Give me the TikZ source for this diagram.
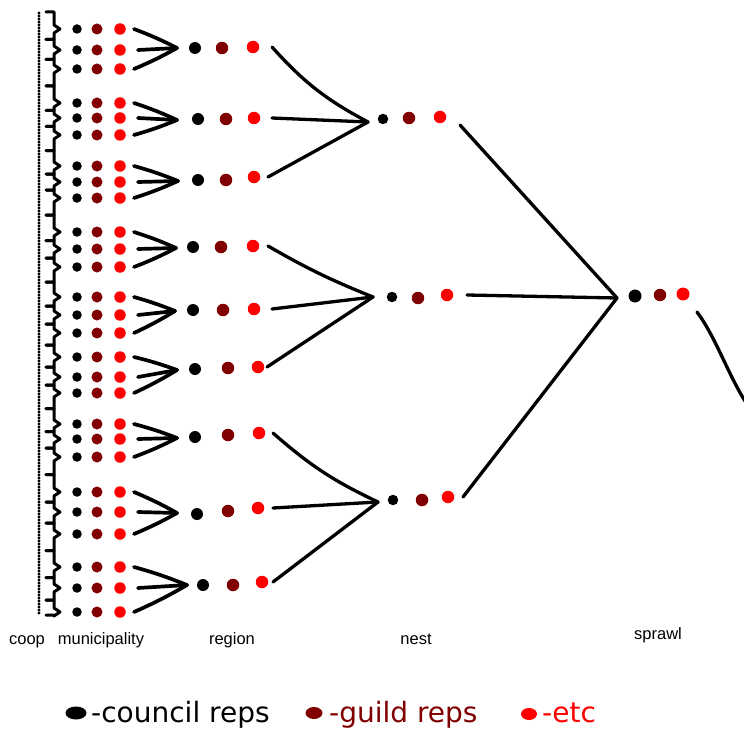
\documentclass[tikz,border=0pt]{standalone}
\usepackage{fontspec}
\setmainfont{Liberation Sans}
\newfontfamily\legfont{DejaVu Sans}
\usetikzlibrary{shapes.geometric}
\definecolor{dkred}{RGB}{128,0,0}
\definecolor{brred}{RGB}{255,0,0}
\begin{document}
\begin{tikzpicture}[x=1pt,y=-1pt,
  dotbase/.style={circle,inner sep=0pt,draw=none},
  kd/.style={dotbase,fill=black,minimum size=#1},
  dd/.style={dotbase,fill=dkred,minimum size=#1},
  rd/.style={dotbase,fill=brred,minimum size=#1},
  wire/.style={line width=3.3pt,line cap=round,line join=round},
  arr/.style={line width=3.7pt,line cap=round,line join=round},
  brc/.style={line width=3pt,line cap=round,line join=round},
  lbl/.style={font=\fontsize{16.5}{18}\selectfont,anchor=base,inner sep=0pt},
  leg/.style={font=\legfont\fontsize{28}{30}\selectfont,anchor=base west,inner sep=0pt},
  blob/.style={ellipse,inner sep=0pt,draw=none}]
\useasboundingbox (0,0) rectangle (744,733);

% coop members
\foreach \i in {0,...,200} \fill (39,13+3*\i) circle (1.6pt);

% braces grouping coop members into municipalities
\foreach \y/\a/\b in {29/12/39.5, 50/39.5/59.5, 69/59.5/86,
  103/86/110.5, 118/110.5/126.5, 135/126.5/150.5,
  166/150.5/174, 182/174/190, 198/190/215,
  232/215/240.5, 249/240.5/258, 267/258/282,
  297/282/306, 315/306/324, 333/324/345,
  357/345/367, 377/367/385, 393/385/408.5,
  424/408.5/431.5, 439/431.5/448, 457/448/474.5,
  492/474.5/502, 512/502/523, 534/523/550.5,
  567/550.5/577.5, 588/577.5/600, 612/600/615}
  \draw[brc] (46,\a) -- (54,\a) -- (54,\y-4) -- (60,\y) -- (54,\y+4) -- (54,\b) -- (46,\b);

% municipalities
\foreach \y [count=\i] in {29,50,69,103,118,135,166,182,198,232,249,267,297,315,333,357,377,393,424,439,457,492,512,534,567,588,612} {
  \node[kd=9.5pt] (m\i-k) at (77,\y) {};
  \node[dd=11pt] (m\i-d) at (97,\y) {};
  \node[rd=11.5pt] (m\i-r) at (120,\y) {};
}

% regions
\foreach \g/\kx/\ky/\dx/\dy/\rx/\ry in {1/195/48/222/48/253/47,
  2/198/119/226/119/254/118, 3/198/180/226/180/254/177,
  4/193/247/221/247/253/246, 5/193/310/223/310/254/309,
  6/195/369/228/368/258/367, 7/195/437/228/435/259/433,
  8/197/514/228/511/258/508, 9/203/585/233/585/262/582} {
  \node[kd=12pt] (r\g-k) at (\kx,\ky) {};
  \node[dd=12.5pt] (r\g-d) at (\dx,\dy) {};
  \node[rd=12.5pt] (r\g-r) at (\rx,\ry) {};
}

% municipality -> region arrows
\foreach \g/\t/\m/\b/\ax/\ay in {1/1/2/3/177/48, 2/4/5/6/177/120, 3/7/8/9/178/181,
  4/10/11/12/176/248, 5/13/14/15/175/311, 6/16/17/18/177/370,
  7/19/20/21/177/438, 8/22/23/24/177/513, 9/25/26/27/187/585} {
  \coordinate (a\g) at (\ax,\ay);
  \draw[arr] ([xshift=14pt]m\t-r.center) to[bend left=3] (a\g);
  \draw[arr] ([xshift=18pt]m\m-r.center) -- (a\g);
  \draw[arr] ([xshift=14pt]m\b-r.center) to[bend right=3] (a\g);
}

% nests
\coordinate (n1a) at (368,122);
\coordinate (n2a) at (373,297);
\coordinate (n3a) at (378,502);
\foreach \n/\kx/\ky/\dx/\dy/\rx/\ry in {1/383/119/409/118/440/117,
  2/392/297/418/298/447/295, 3/393/500/422/500/448/497} {
  \node[kd=10.5pt] (n\n-k) at (\kx,\ky) {};
  \node[dd=12.5pt] (n\n-d) at (\dx,\dy) {};
  \node[rd=12.5pt] (n\n-r) at (\rx,\ry) {};
}

% region -> nest
\draw[wire] ([xshift=19pt]r1-r.center) to[bend right=10] (n1a);
\draw[wire] ([xshift=18pt]r2-r.center) -- (n1a);
\draw[wire] ([xshift=14pt]r3-r.center) -- (n1a);
\draw[wire] ([xshift=15pt]r4-r.center) to[bend right=4] (n2a);
\draw[wire] ([xshift=18pt]r5-r.center) -- (n2a);
\draw[wire] ([xshift=9pt]r6-r.center) -- (n2a);
\draw[wire] ([xshift=14pt]r7-r.center) to[bend right=8] (n3a);
\draw[wire] ([xshift=15pt]r8-r.center) -- (n3a);
\draw[wire] ([xshift=11pt]r9-r.center) -- (n3a);

% sprawl
\coordinate (sa) at (617,298);
\node[kd=13pt] (s-k) at (635,296) {};
\node[dd=12.5pt] (s-d) at (660,295) {};
\node[rd=13pt] (s-r) at (683,294) {};
\coordinate (se) at (745,401);

% nest -> sprawl
\draw[wire] ([shift={(20,8)}]n1-r.center) -- (sa);
\draw[wire] ([xshift=20pt]n2-r.center) -- (sa);
\draw[wire] ([xshift=15pt]n3-r.center) -- (sa);
\draw[wire] ([shift={(14,18)}]s-r.center) .. controls (715,336) and (728,374) .. (se);

% level labels
\node[lbl] (lcoop) at (27,644) {coop};
\node[lbl] (lmun) at (101,644) {municipality};
\node[lbl] (lreg) at (232,644) {region};
\node[lbl] (lnest) at (416,644) {nest};
\node[lbl] (lspr) at (658,639) {sprawl};

% legend
\node[blob,fill=black,minimum width=21pt,minimum height=13pt] (bk) at (76,713) {};
\node[leg,text=black] (tk) at (91,722) {-council reps};
\node[blob,fill=dkred,minimum width=17pt,minimum height=12pt] (bd) at (314,713) {};
\node[leg,text=dkred] (td) at (329,722) {-guild reps};
\node[blob,fill=brred,minimum width=16pt,minimum height=12pt] (br) at (529,714) {};
\node[leg,text=brred] (tr) at (542,722) {-etc};
\end{tikzpicture}
\end{document}
